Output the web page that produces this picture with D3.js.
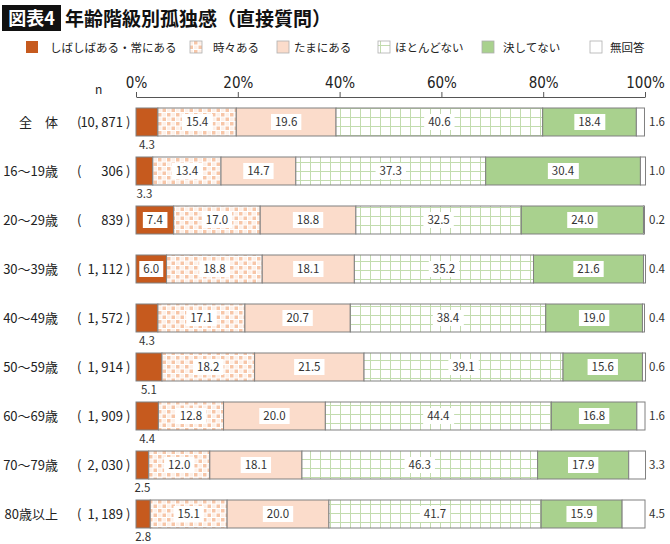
<!DOCTYPE html>
<html>
<head>
<meta charset="utf-8">
<script src="https://cdn.jsdelivr.net/npm/d3@7"></script>
<style>
  body { margin: 0; background: #fff; }
  svg { display: block; font-family: "Noto Sans CJK JP", "Noto Sans", sans-serif; }
</style>
</head>
<body>
<div id="chart"></div>
<script>
// rows
var categories = ["全　体", "16～19歳", "20～29歳", "30～39歳", "40～49歳", "50～59歳", "60～69歳", "70～79歳", "80歳以上"];
var counts = ["10, 871", "306", "839", "1, 112", "1, 572", "1, 914", "1, 909", "2, 030", "1, 189"];
var seriesNames = ["しばしばある・常にある", "時々ある", "たまにある", "ほとんどない", "決してない", "無回答"];
// percentages per answer
var often = [4.3, 3.3, 7.4, 6.0, 4.3, 5.1, 4.4, 2.5, 2.8];
var sometimes = [15.4, 13.4, 17.0, 18.8, 17.1, 18.2, 12.8, 12.0, 15.1];
var occasionally = [19.6, 14.7, 18.8, 18.1, 20.7, 21.5, 20.0, 18.1, 20.0];
var hardlyEver = [40.6, 37.3, 32.5, 35.2, 38.4, 39.1, 44.4, 46.3, 41.7];
var never = [18.4, 30.4, 24.0, 21.6, 19.0, 15.6, 16.8, 17.9, 15.9];
var noAnswer = [1.6, 1.0, 0.2, 0.4, 0.4, 0.6, 1.6, 3.3, 4.5];
var tickValues = [0, 20, 40, 60, 80, 100];

var series = [often, sometimes, occasionally, hardlyEver, never, noAnswer];
var fills = ["#c65a1e", "url(#pChecker)", "#fbdccb", "url(#pGrid)", "#a9d18e", "#ffffff"];

var width = 670, height = 544;
var svg = d3.select("#chart").append("svg").attr("width", width).attr("height", height);

// patterns
var defs = svg.append("defs");
var pc = defs.append("pattern").attr("id", "pChecker").attr("patternUnits", "userSpaceOnUse")
  .attr("width", 9).attr("height", 9);
pc.append("rect").attr("width", 9).attr("height", 9).attr("fill", "#fff");
pc.append("rect").attr("x", 0.5).attr("y", 0.5).attr("width", 3.5).attr("height", 3.5).attr("fill", "#f7c6a8");
pc.append("rect").attr("x", 5).attr("y", 5).attr("width", 3.5).attr("height", 3.5).attr("fill", "#f7c6a8");
pc.append("rect").attr("x", 5).attr("y", 0.5).attr("width", 3.5).attr("height", 3.5).attr("fill", "#fdf0e8");
pc.append("rect").attr("x", 0.5).attr("y", 5).attr("width", 3.5).attr("height", 3.5).attr("fill", "#fdf0e8");

var pg = defs.append("pattern").attr("id", "pGrid").attr("patternUnits", "userSpaceOnUse")
  .attr("width", 10).attr("height", 9);
pg.append("rect").attr("width", 10).attr("height", 9).attr("fill", "#fff");
pg.append("path").attr("d", "M0,0.5H10M0.5,0V9").attr("stroke", "#c2dcae").attr("stroke-width", 1);

// title
svg.append("rect").attr("x", 2).attr("y", 5).attr("width", 59).attr("height", 26).attr("fill", "#111");
svg.append("text").text("図表4").attr("x", 31.5).attr("y", 25).attr("text-anchor", "middle")
  .attr("fill", "#fff").attr("font-size", 18).attr("font-weight", "bold");
svg.append("text").text("年齢階級別孤独感（直接質問）").attr("x", 65).attr("y", 26)
  .attr("fill", "#111").attr("font-size", 19).attr("font-weight", "bold");

// legend
var legendX = [26, 190, 277, 378, 482, 590];
var legendGap = [24, 23, 17, 17, 21, 20];
var legend = svg.append("g");
seriesNames.forEach(function(name, i) {
  legend.append("rect").attr("x", legendX[i]).attr("y", 41).attr("width", 12).attr("height", 12)
    .attr("fill", fills[i]).attr("stroke", i === 0 ? "none" : "#b0b0b0").attr("stroke-width", 0.8);
  legend.append("text").text(name).attr("x", legendX[i] + legendGap[i]).attr("y", 52)
    .attr("font-size", 11.5).attr("fill", "#222");
});

// scales
var x = d3.scaleLinear().domain([0, 100]).range([136, 645]);
var y = d3.scaleBand().domain(categories).range([97.5, 538.5]).paddingInner(0.4286).paddingOuter(0.2143);

// axis
var axis = svg.append("g").attr("transform", "translate(0,97)")
  .call(d3.axisTop(x).tickValues(tickValues).tickFormat(function(d) { return d + "%"; }).tickSize(5).tickSizeOuter(0));
axis.select(".domain").attr("stroke", "#555");
axis.selectAll(".tick line").attr("stroke", "#555");
axis.selectAll(".tick text").attr("font-size", 15).attr("fill", "#222").attr("dy", "-0.1em")
  .attr("font-family", "'Liberation Sans Narrow', 'DejaVu Sans Condensed', sans-serif")
  .style("font-stretch", "condensed");

svg.append("text").text("n").attr("x", 95).attr("y", 94).attr("font-size", 12).attr("fill", "#222");

// row labels
var rows = svg.append("g");
categories.forEach(function(c, i) {
  var cy = y(c) + y.bandwidth() / 2 + 5;
  rows.append("text").text(c).attr("x", 58).attr("y", cy).attr("text-anchor", "end")
    .attr("font-size", 13).attr("fill", "#222");
  rows.append("text").text("(").attr("x", 77).attr("y", cy).attr("font-size", 13).attr("fill", "#222");
  rows.append("text").text(counts[i]).attr("x", 123).attr("y", cy).attr("text-anchor", "end")
    .attr("font-size", 13).attr("fill", "#222");
  rows.append("text").text(")").attr("x", 126).attr("y", cy).attr("font-size", 13).attr("fill", "#222");
});

// stacked bars
var stack = d3.stack().keys(d3.range(series.length)).value(function(d, k) { return series[k][d]; });
var layers = stack(d3.range(categories.length));

var bars = svg.append("g");
layers.forEach(function(layer, k) {
  layer.forEach(function(seg, i) {
    bars.append("rect")
      .attr("x", x(seg[0])).attr("y", y(categories[i]))
      .attr("width", x(seg[1]) - x(seg[0])).attr("height", y.bandwidth())
      .attr("fill", fills[k]).attr("stroke", "#808080").attr("stroke-width", 1);
  });
});

// value labels
var labels = svg.append("g").attr("font-size", 11.5).attr("fill", "#333");
layers.forEach(function(layer, k) {
  layer.forEach(function(seg, i) {
    var v = series[k][i];
    var cx = (x(seg[0]) + x(seg[1])) / 2;
    var cy = y(categories[i]) + y.bandwidth() / 2;
    if (k === 5) {
      labels.append("text").text(v.toFixed(1)).attr("x", x(100) + 4).attr("y", cy + 4);
    } else if (k === 0 && v < 6) {
      labels.append("text").text(v.toFixed(1)).attr("x", cx).attr("y", y(categories[i]) + y.bandwidth() + 13)
        .attr("text-anchor", "middle");
    } else {
      var t = labels.append("text").text(v.toFixed(1)).attr("x", cx).attr("y", cy + 4).attr("text-anchor", "middle");
      var bb = t.node().getBBox();
      labels.insert("rect", function() { return t.node(); })
        .attr("x", bb.x - 4).attr("y", cy - 8).attr("width", bb.width + 8).attr("height", 16)
        .attr("fill", "#fff");
    }
  });
});
</script>
</body>
</html>
